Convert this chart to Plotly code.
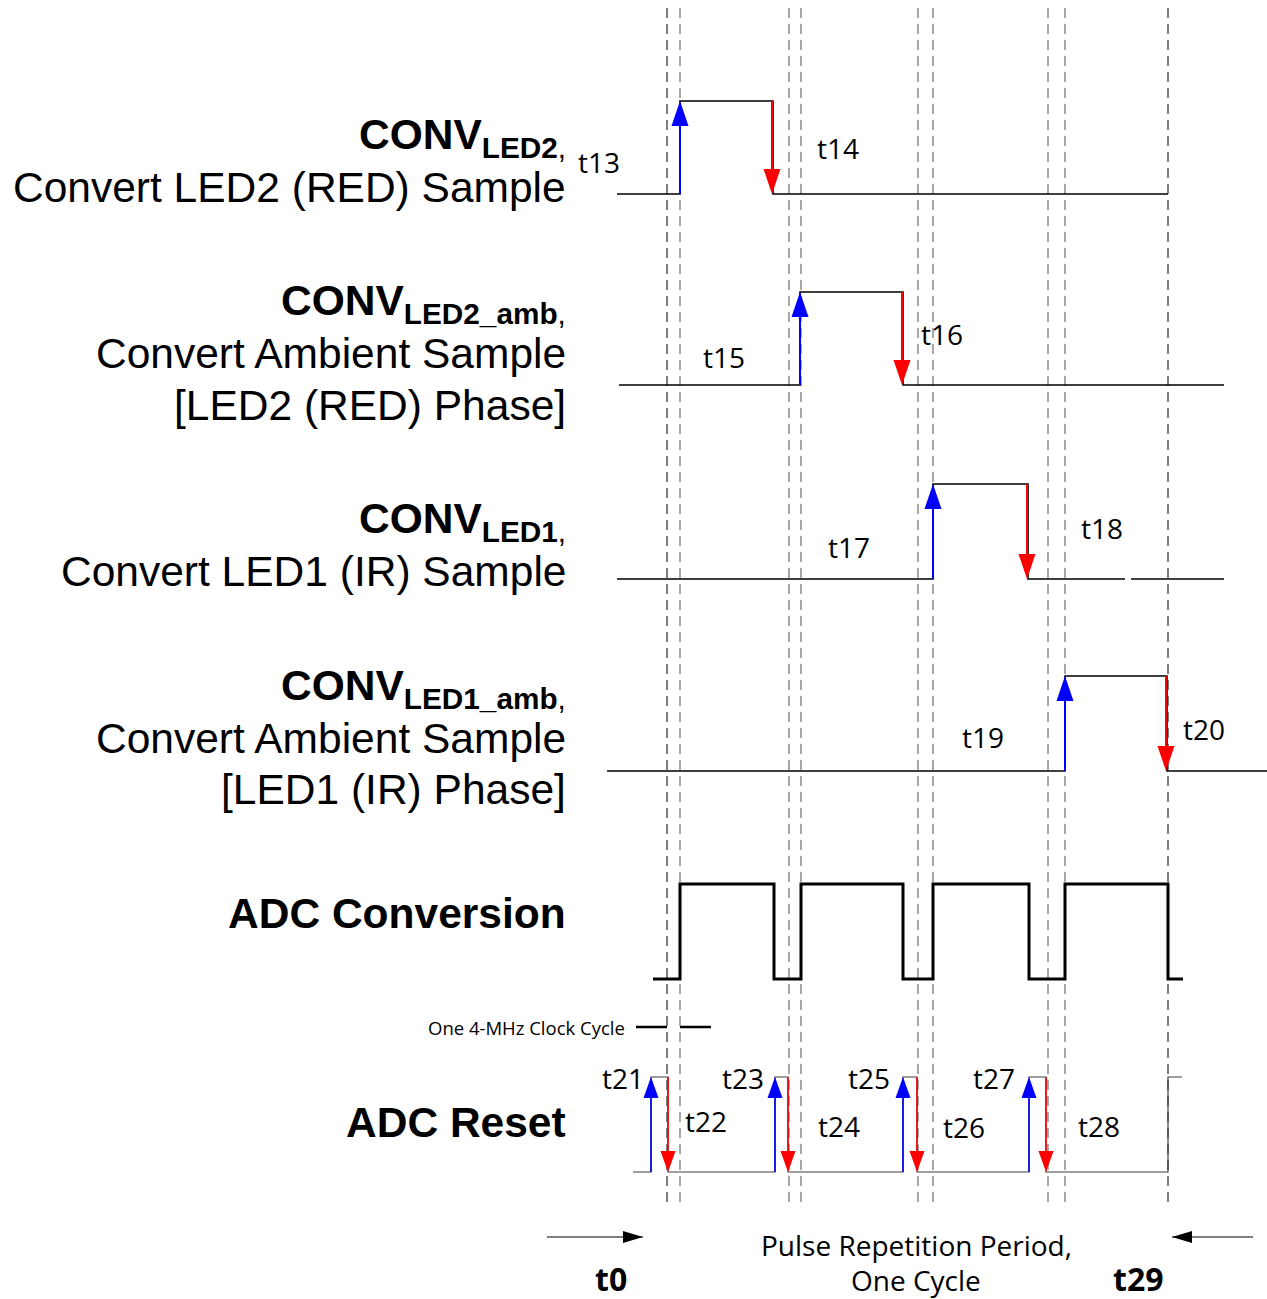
import plotly.graph_objects as go

W, H = 1267, 1299

# ---------------- data (positions on the shared time axis) ----------------
dash_times = [667, 680, 789, 801, 918, 933, 1048, 1065, 1168]
dash_dark = [667, 1168]

conv_led2_edges = [617, 680, 773, 1168]
conv_led2_amb_edges = [619, 800, 903, 1224]
conv_led1_edges = [617, 933, 1028, 1125]
conv_led1_tail = [1131, 1224]
conv_led1_amb_edges = [607, 1065, 1167, 1267]
adc_conv_edges = [653, 680, 774, 801, 903, 933, 1029, 1065, 1168, 1183]
adc_reset_edges = [633, 651, 668, 775, 788, 903, 917, 1029, 1046, 1168, 1182]
adc_reset_rise_arrows = [651, 775, 903, 1029]
adc_reset_fall_arrows = [668, 788, 917, 1046]

conv_labels = [["t13", "t14"], ["t15", "t16"], ["t17", "t18"], ["t19", "t20"]]
conv_label_x = [[599, 838], [724, 942], [849, 1102], [983, 1204]]
reset_labels = ["t21", "t22", "t23", "t24", "t25", "t26", "t27", "t28"]
reset_label_x = [623, 706, 743, 839, 869, 964, 994, 1099]

clock_cycle = [636, 667, 680, 711]
period_start = [547, 643]
period_end = [1253, 1172]

row_titles = [
    ["<b>CONV</b><sub><b>LED2</b>,</sub>", "Convert LED2 (RED) Sample"],
    ["<b>CONV</b><sub><b>LED2_amb</b>,</sub>", "Convert Ambient Sample", "[LED2 (RED) Phase]"],
    ["<b>CONV</b><sub><b>LED1</b>,</sub>", "Convert LED1 (IR) Sample"],
    ["<b>CONV</b><sub><b>LED1_amb</b>,</sub>", "Convert Ambient Sample", "[LED1 (IR) Phase]"],
    ["<b>ADC Conversion</b>"],
    ["<b>ADC Reset</b>"],
]

# ---------------- layout constants ----------------
conv_rows = [(194, 101), (385, 292), (579, 484), (771, 676)]  # (low, high) y
conv_label_y = [[162, 148], [357, 334], [547, 528], [737, 729]]
adc_conv_row = (979, 884)
reset_row = (1172, 1077)
reset_label_y = [1078, 1121, 1078, 1126, 1078, 1127, 1078, 1126]
title_y = [[137, 187], [303, 353, 405], [521, 571], [688, 738, 789], [913], [1122]]
SANS = "Open Sans"
ARIAL = "Liberation Sans, Arial"

fig = go.Figure()


def add_line(xs, ys, color="black", width=1.5, dash=None):
    fig.add_trace(go.Scatter(x=xs, y=ys, mode="lines", hoverinfo="skip",
                             line=dict(color=color, width=width, dash=dash),
                             showlegend=False))


def step(edges, lo, hi):
    xs, ys, level = [edges[0]], [lo], lo
    for e in edges[1:-1]:
        nxt = hi if level == lo else lo
        xs += [e, e]
        ys += [level, nxt]
        level = nxt
    xs.append(edges[-1])
    ys.append(level)
    return xs, ys


def tri(x, tip, direction, length, width, color):
    # direction = -1 points up (towards smaller y), +1 points down
    base = tip - direction * length
    fig.add_trace(go.Scatter(x=[x - width / 2, x + width / 2, x, x - width / 2],
                             y=[base, base, tip, base], mode="lines", fill="toself",
                             fillcolor=color, line=dict(width=0, color=color),
                             hoverinfo="skip", showlegend=False))


def htri(y, tip, direction, length, width, color):
    base = tip - direction * length
    fig.add_trace(go.Scatter(x=[base, base, tip, base],
                             y=[y - width / 2, y + width / 2, y, y - width / 2], mode="lines",
                             fill="toself", fillcolor=color, line=dict(width=0, color=color),
                             hoverinfo="skip", showlegend=False))


def up_arrow(x, lo, hi, color, hl, hw, sw=2):
    add_line([x, x], [lo, hi + hl * 0.5], color=color, width=sw)
    tri(x, hi, -1, hl, hw, color)


def down_arrow(x, hi, lo, color, hl, hw, sw=2):
    add_line([x, x], [hi, lo - hl * 0.5], color=color, width=sw)
    tri(x, lo, 1, hl, hw, color)


# dashed guides
for t in dash_times:
    add_line([t, t], [8, 1202], color="#3a3a3a" if t in dash_dark else "#7a7a7a",
             width=1.3, dash="10px,6px")

# CONV rows
conv_sets = [conv_led2_edges, conv_led2_amb_edges, conv_led1_edges, conv_led1_amb_edges]
for i, edges in enumerate(conv_sets):
    lo, hi = conv_rows[i]
    xs, ys = step(edges, lo, hi)
    add_line(xs, ys, width=1.6)
    up_arrow(edges[1], lo, hi, "#0000ff", 25, 17)
    down_arrow(edges[2] - 1, hi, lo, "#ff0000", 25, 17)
    for lab, lx, ly in zip(conv_labels[i], conv_label_x[i], conv_label_y[i]):
        fig.add_annotation(x=lx, y=ly, text=lab, showarrow=False,
                           font=dict(family=SANS, size=28, color="black"))
lo, hi = conv_rows[2]
add_line(conv_led1_tail, [lo, lo], width=1.6)

# ADC conversion
xs, ys = step(adc_conv_edges, *adc_conv_row)
add_line(xs, ys, width=3)

# ADC reset
lo, hi = reset_row
xs, ys = step(adc_reset_edges, lo, hi)
add_line(xs, ys, color="#404040", width=1.2)
for x in adc_reset_rise_arrows:
    up_arrow(x, lo, hi, "#0000ff", 21, 15, sw=1.6)
for x in adc_reset_fall_arrows:
    down_arrow(x, hi, lo, "#ff0000", 21, 15, sw=1.6)
for lab, lx, ly in zip(reset_labels, reset_label_x, reset_label_y):
    fig.add_annotation(x=lx, y=ly, text=lab, showarrow=False,
                       font=dict(family=SANS, size=28, color="black"))

# clock cycle marker
add_line(clock_cycle[:2], [1027, 1027], width=2.5)
add_line(clock_cycle[2:], [1027, 1027], width=2.5)
fig.add_annotation(x=627, y=1027, text="One 4-MHz Clock Cycle", showarrow=False,
                   xanchor="right", font=dict(family=SANS, size=18.5, color="black"))

# period arrows
add_line(period_start, [1237, 1237], width=1.2)
htri(1237, period_start[1], 1, 20, 12, "black")
add_line(period_end, [1237, 1237], width=1.2)
htri(1237, period_end[1], -1, 20, 12, "black")
fig.add_annotation(x=916, y=1245, text="Pulse Repetition Period,", showarrow=False,
                   font=dict(family=SANS, size=28, color="black"))
fig.add_annotation(x=916, y=1280, text="One Cycle", showarrow=False, borderpad=0,
                   font=dict(family=SANS, size=28, color="black"))
fig.add_annotation(x=611, y=1278, text="<b>t0</b>", showarrow=False, borderpad=0,
                   font=dict(family=SANS, size=32, color="black"))
fig.add_annotation(x=1138, y=1278, text="<b>t29</b>", showarrow=False, borderpad=0,
                   font=dict(family=SANS, size=32, color="black"))

# row titles
for lines, ys_ in zip(row_titles, title_y):
    for txt, yy in zip(lines, ys_):
        fig.add_annotation(x=568, y=yy, text=txt, showarrow=False, xanchor="right",
                           font=dict(family=ARIAL, size=42.5, color="black"))

fig.update_layout(
    width=W, height=H, margin=dict(l=0, r=0, t=0, b=0),
    paper_bgcolor="white", plot_bgcolor="white", showlegend=False,
    xaxis=dict(range=[0, W], visible=False, fixedrange=True),
    yaxis=dict(range=[H, 0], visible=False, fixedrange=True),
)
fig.write_html("out.html", config={"displayModeBar": False},
               post_script="document.body.style.margin='0';document.body.style.overflow='hidden';")
